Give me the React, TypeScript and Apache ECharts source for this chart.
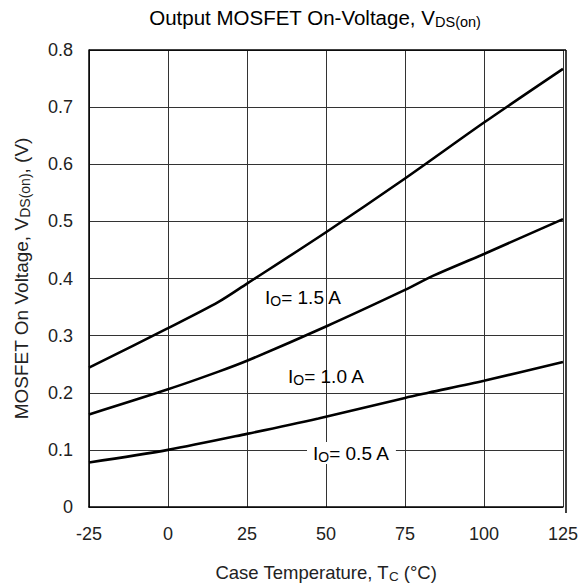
import React, { useEffect, useRef } from "react";
import * as echarts from "echarts";

const temps15 = [-25, 0, 16, 25, 50, 75, 100, 125];
const vals15 = [0.244, 0.313, 0.359, 0.391, 0.481, 0.575, 0.673, 0.767];
const temps10 = [-25, 0, 16, 25, 50, 75, 84, 100, 125];
const vals10 = [0.162, 0.206, 0.237, 0.256, 0.316, 0.38, 0.405, 0.443, 0.504];
const temps05 = [-25, 0, 25, 47.6, 75, 82.4, 100, 125];
const vals05 = [0.078, 0.1, 0.128, 0.155, 0.191, 0.2, 0.221, 0.254];
const xTicks = [-25, 0, 25, 50, 75, 100, 125];
const seriesNames = ["1.5 A", "1.0 A", "0.5 A"];

const FONT = "Liberation Sans, Arial, sans-serif";

export default function App() {
  const ref = useRef<HTMLDivElement>(null);
  useEffect(() => {
    if (!ref.current) return;
    const chart = echarts.init(ref.current, undefined, { renderer: "svg" });
    const pairs = (t: number[], v: number[]) => t.map((x, i) => [x, v[i]]);
    const lineSeries = (name: string, t: number[], v: number[]) => ({
      name,
      type: "line",
      data: pairs(t, v),
      smooth: 0.3,
      showSymbol: false,
      lineStyle: { color: "#000", width: 2.6 },
      z: 5,
    });
    const mk = (size: number, subSize: number, pad: number) => ({
      a: { fontSize: size, fontFamily: FONT, color: "#222" },
      s: { fontSize: subSize, fontFamily: FONT, color: "#222", padding: [pad, 0, 0, 0] },
    });
    chart.setOption({
      animation: false,
      backgroundColor: "#fff",
      grid: { left: 89, right: 15, top: 50, bottom: 75, show: false },
      xAxis: {
        type: "value",
        min: -25,
        max: 125,
        interval: 25,
        axisLine: { show: true, onZero: false, lineStyle: { color: "#000", width: 1.5 } },
        axisTick: { show: false },
        splitLine: { show: true, lineStyle: { color: "#333", width: 1 } },
        axisLabel: { color: "#222", fontSize: 18, fontFamily: FONT, margin: 18, formatter: (v: number) => (xTicks.includes(v) ? String(v) : "") },
        name: "{a|Case Temperature, T}{s|C}{a| (°C)}",
        nameLocation: "middle",
        nameGap: 54,
        nameTextStyle: { rich: mk(18.5, 13.5, 8) },
      },
      yAxis: {
        type: "value",
        min: 0,
        max: 0.8,
        interval: 0.1,
        axisLine: { show: true, onZero: false, lineStyle: { color: "#000", width: 1.5 } },
        axisTick: { show: false },
        splitLine: { show: true, lineStyle: { color: "#333", width: 1 } },
        axisLabel: { color: "#222", fontSize: 18, fontFamily: FONT, margin: 16, formatter: (v: number) => (v === 0 ? "0" : v.toFixed(1)) },
        name: "{a|MOSFET On Voltage, V}{s|DS(on)}{a|, (V)}",
        nameLocation: "middle",
        nameGap: 57,
        nameTextStyle: { rich: mk(19, 14, 8) },
      },
      series: [
        lineSeries(seriesNames[0], temps15, vals15),
        lineSeries(seriesNames[1], temps10, vals10),
        lineSeries(seriesNames[2], temps05, vals05),
      ],
      graphic: [
        {
          type: "line",
          shape: { x1: 566, y1: 50, x2: 566, y2: 513 },
          style: { stroke: "#000", lineWidth: 1.5 },
          z: 10,
        },
        {
          type: "line",
          shape: { x1: 89, y1: 50, x2: 566, y2: 50 },
          style: { stroke: "#000", lineWidth: 1.5 },
          z: 10,
        },
        {
          type: "text",
          x: 315,
          y: 5,
          style: {
            text: "{a|Output MOSFET On-Voltage, V}{s|DS(on)}",
            align: "center",
            rich: mk(20.5, 14.5, 9),
          },
        },
        {
          type: "text",
          x: 265,
          y: 286,
          style: { text: "{a|I}{s|O}{a|= " + seriesNames[0] + "}", rich: mk(19, 14, 8) },
          z: 20,
        },
        {
          type: "text",
          x: 288,
          y: 365,
          style: { text: "{a|I}{s|O}{a|= " + seriesNames[1] + "}", rich: mk(19, 14, 8) },
          z: 20,
        },
        {
          type: "text",
          x: 307,
          y: 442,
          style: {
            text: "{a|I}{s|O}{a|= " + seriesNames[2] + "}",
            rich: mk(19, 14, 8),
            backgroundColor: "#fff",
            padding: [0, 6, 0, 6],
          },
          z: 20,
        },
      ],
    });
    return () => chart.dispose();
  }, []);
  return <div ref={ref} style={{ width: 581, height: 588, position: "absolute", left: 0, top: 0 }} />;
}
